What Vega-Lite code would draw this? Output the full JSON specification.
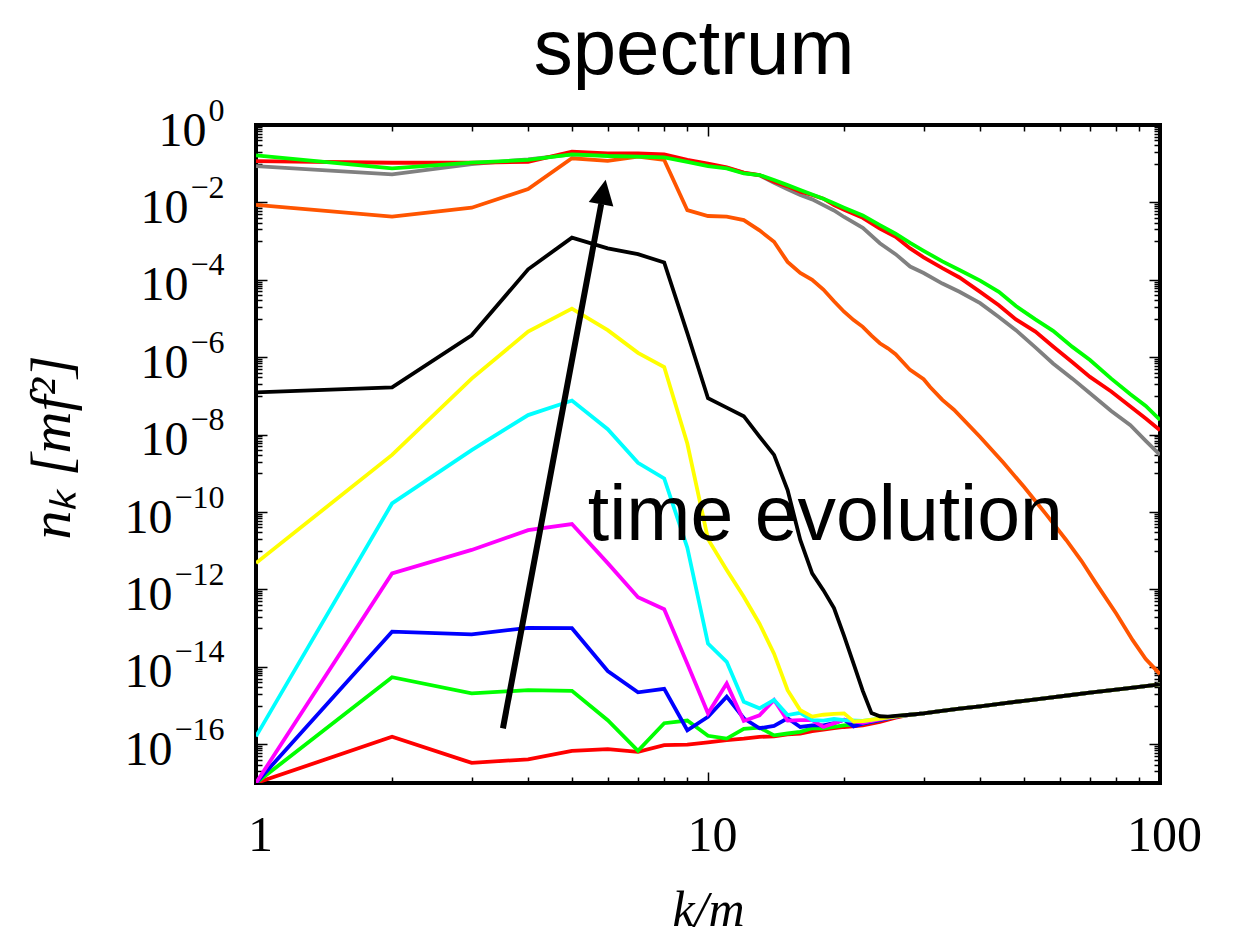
{
  "$schema": "https://vega.github.io/schema/vega-lite/v6.json",
  "width": 904,
  "height": 658,
  "autosize": {"type": "none"},
  "padding": {"left": 256, "top": 125, "right": 78, "bottom": 159},
  "background": "white",
  "title": {
    "text": "spectrum",
    "font": "Liberation Sans",
    "fontSize": 78,
    "fontWeight": "normal",
    "color": "black",
    "anchor": "middle",
    "frame": "group",
    "baseline": "alphabetic",
    "offset": -58,
    "dx": -14
  },
  "config": {
    "view": {"stroke": "black", "strokeWidth": 4},
    "axis": {
      "domain": false,
      "grid": false,
      "tickColor": "black",
      "tickWidth": 1.5,
      "labelColor": "black",
      "labelFont": "Liberation Serif",
      "labelFlush": false,
      "labelOverlap": false,
      "labelBound": false,
      "titleColor": "black",
      "zindex": 1
    }
  },
  "datasets": {
    "spectra": [
      {"s": "s01", "k": 1, "n": 1e-17}, {"s": "s01", "k": 2, "n": 1.56e-16}, {"s": "s01", "k": 3, "n": 3.3e-17}, {"s": "s01", "k": 4, "n": 4.1e-17}, {"s": "s01", "k": 5, "n": 6.8e-17}, {"s": "s01", "k": 6, "n": 7.5e-17}, {"s": "s01", "k": 7, "n": 6.4e-17}, {"s": "s01", "k": 8, "n": 9.5e-17}, {"s": "s01", "k": 9, "n": 9.8e-17}, {"s": "s01", "k": 10, "n": 1.12e-16}, {"s": "s01", "k": 11, "n": 1.28e-16}, {"s": "s01", "k": 12, "n": 1.4e-16}, {"s": "s01", "k": 13, "n": 1.56e-16}, {"s": "s01", "k": 14, "n": 1.6e-16}, {"s": "s01", "k": 15, "n": 1.8e-16}, {"s": "s01", "k": 16, "n": 1.9e-16}, {"s": "s01", "k": 17, "n": 2.2e-16}, {"s": "s01", "k": 18, "n": 2.4e-16}, {"s": "s01", "k": 19, "n": 2.6e-16}, {"s": "s01", "k": 20, "n": 2.8e-16}, {"s": "s01", "k": 22, "n": 3.1e-16}, {"s": "s01", "k": 24, "n": 3.8e-16}, {"s": "s01", "k": 26, "n": 4.9e-16},
      {"s": "s01", "k": 28, "n": 5.8e-16}, {"s": "s01", "k": 30, "n": 6.3e-16}, {"s": "s01", "k": 32, "n": 7.0e-16}, {"s": "s01", "k": 36, "n": 8.3e-16}, {"s": "s01", "k": 40, "n": 9.6e-16}, {"s": "s01", "k": 45, "n": 1.14e-15}, {"s": "s01", "k": 50, "n": 1.33e-15}, {"s": "s01", "k": 56, "n": 1.55e-15}, {"s": "s01", "k": 63, "n": 1.85e-15}, {"s": "s01", "k": 70, "n": 2.15e-15}, {"s": "s01", "k": 80, "n": 2.6e-15}, {"s": "s01", "k": 90, "n": 3.05e-15}, {"s": "s01", "k": 100, "n": 3.55e-15},

      {"s": "s02", "k": 1, "n": 1e-17}, {"s": "s02", "k": 2, "n": 5.4e-15}, {"s": "s02", "k": 3, "n": 2.07e-15}, {"s": "s02", "k": 4, "n": 2.5e-15}, {"s": "s02", "k": 5, "n": 2.4e-15}, {"s": "s02", "k": 6, "n": 4.2e-16}, {"s": "s02", "k": 7, "n": 6.8e-17}, {"s": "s02", "k": 8, "n": 3.5e-16}, {"s": "s02", "k": 9, "n": 4.1e-16}, {"s": "s02", "k": 10, "n": 1.66e-16}, {"s": "s02", "k": 11, "n": 1.4e-16}, {"s": "s02", "k": 12, "n": 2.5e-16}, {"s": "s02", "k": 13, "n": 2.7e-16}, {"s": "s02", "k": 14, "n": 1.7e-16}, {"s": "s02", "k": 15, "n": 1.9e-16}, {"s": "s02", "k": 16, "n": 2.1e-16}, {"s": "s02", "k": 17, "n": 2.6e-16}, {"s": "s02", "k": 18, "n": 2.6e-16}, {"s": "s02", "k": 19, "n": 2.8e-16}, {"s": "s02", "k": 20, "n": 3.1e-16}, {"s": "s02", "k": 22, "n": 3.4e-16}, {"s": "s02", "k": 24, "n": 4.2e-16}, {"s": "s02", "k": 26, "n": 5.2e-16},
      {"s": "s02", "k": 28, "n": 5.8e-16}, {"s": "s02", "k": 30, "n": 6.3e-16}, {"s": "s02", "k": 32, "n": 7.0e-16}, {"s": "s02", "k": 36, "n": 8.3e-16}, {"s": "s02", "k": 40, "n": 9.6e-16}, {"s": "s02", "k": 45, "n": 1.14e-15}, {"s": "s02", "k": 50, "n": 1.33e-15}, {"s": "s02", "k": 56, "n": 1.55e-15}, {"s": "s02", "k": 63, "n": 1.85e-15}, {"s": "s02", "k": 70, "n": 2.15e-15}, {"s": "s02", "k": 80, "n": 2.6e-15}, {"s": "s02", "k": 90, "n": 3.05e-15}, {"s": "s02", "k": 100, "n": 3.55e-15},

      {"s": "s03", "k": 1, "n": 1e-17}, {"s": "s03", "k": 2, "n": 8.1e-14}, {"s": "s03", "k": 3, "n": 6.9e-14}, {"s": "s03", "k": 4, "n": 1.02e-13}, {"s": "s03", "k": 5, "n": 1.0e-13}, {"s": "s03", "k": 6, "n": 7.8e-15}, {"s": "s03", "k": 7, "n": 2.2e-15}, {"s": "s03", "k": 8, "n": 2.7e-15}, {"s": "s03", "k": 9, "n": 2.3e-16}, {"s": "s03", "k": 10, "n": 5.1e-16}, {"s": "s03", "k": 11, "n": 1.7e-15}, {"s": "s03", "k": 12, "n": 4.7e-16}, {"s": "s03", "k": 13, "n": 2.6e-16}, {"s": "s03", "k": 14, "n": 3.0e-16}, {"s": "s03", "k": 15, "n": 4.7e-16}, {"s": "s03", "k": 16, "n": 2.8e-16}, {"s": "s03", "k": 17, "n": 3.1e-16}, {"s": "s03", "k": 18, "n": 3.1e-16}, {"s": "s03", "k": 19, "n": 3.5e-16}, {"s": "s03", "k": 20, "n": 4.3e-16}, {"s": "s03", "k": 21, "n": 2.9e-16}, {"s": "s03", "k": 22, "n": 3.4e-16}, {"s": "s03", "k": 24, "n": 4.2e-16}, {"s": "s03", "k": 26, "n": 5.2e-16},
      {"s": "s03", "k": 28, "n": 5.8e-16}, {"s": "s03", "k": 30, "n": 6.3e-16}, {"s": "s03", "k": 32, "n": 7.0e-16}, {"s": "s03", "k": 36, "n": 8.3e-16}, {"s": "s03", "k": 40, "n": 9.6e-16}, {"s": "s03", "k": 45, "n": 1.14e-15}, {"s": "s03", "k": 50, "n": 1.33e-15}, {"s": "s03", "k": 56, "n": 1.55e-15}, {"s": "s03", "k": 63, "n": 1.85e-15}, {"s": "s03", "k": 70, "n": 2.15e-15}, {"s": "s03", "k": 80, "n": 2.6e-15}, {"s": "s03", "k": 90, "n": 3.05e-15}, {"s": "s03", "k": 100, "n": 3.55e-15},

      {"s": "s04", "k": 1, "n": 1e-17}, {"s": "s04", "k": 2, "n": 2.6e-12}, {"s": "s04", "k": 3, "n": 1.05e-11}, {"s": "s04", "k": 4, "n": 3.4e-11}, {"s": "s04", "k": 5, "n": 4.9e-11}, {"s": "s04", "k": 6, "n": 4.8e-12}, {"s": "s04", "k": 7, "n": 6.3e-13}, {"s": "s04", "k": 8, "n": 3.1e-13}, {"s": "s04", "k": 9, "n": 1.2e-14}, {"s": "s04", "k": 10, "n": 6.3e-16}, {"s": "s04", "k": 11, "n": 3.7e-15}, {"s": "s04", "k": 12, "n": 4.0e-16}, {"s": "s04", "k": 13, "n": 5.6e-16}, {"s": "s04", "k": 14, "n": 1.4e-15}, {"s": "s04", "k": 15, "n": 4.1e-16}, {"s": "s04", "k": 16, "n": 4.2e-16}, {"s": "s04", "k": 17, "n": 4.2e-16}, {"s": "s04", "k": 18, "n": 2.8e-16}, {"s": "s04", "k": 19, "n": 3.5e-16}, {"s": "s04", "k": 20, "n": 4.3e-16}, {"s": "s04", "k": 22, "n": 3.6e-16}, {"s": "s04", "k": 24, "n": 4.4e-16}, {"s": "s04", "k": 26, "n": 5.2e-16},
      {"s": "s04", "k": 28, "n": 5.8e-16}, {"s": "s04", "k": 30, "n": 6.3e-16}, {"s": "s04", "k": 32, "n": 7.0e-16}, {"s": "s04", "k": 36, "n": 8.3e-16}, {"s": "s04", "k": 40, "n": 9.6e-16}, {"s": "s04", "k": 45, "n": 1.14e-15}, {"s": "s04", "k": 50, "n": 1.33e-15}, {"s": "s04", "k": 56, "n": 1.55e-15}, {"s": "s04", "k": 63, "n": 1.85e-15}, {"s": "s04", "k": 70, "n": 2.15e-15}, {"s": "s04", "k": 80, "n": 2.6e-15}, {"s": "s04", "k": 90, "n": 3.05e-15}, {"s": "s04", "k": 100, "n": 3.55e-15},

      {"s": "s05", "k": 1, "n": 1.6e-16}, {"s": "s05", "k": 2, "n": 1.67e-10}, {"s": "s05", "k": 3, "n": 4.0e-9}, {"s": "s05", "k": 4, "n": 3.2e-8}, {"s": "s05", "k": 5, "n": 7.6e-8}, {"s": "s05", "k": 6, "n": 1.38e-8}, {"s": "s05", "k": 7, "n": 1.87e-9}, {"s": "s05", "k": 8, "n": 7.4e-10}, {"s": "s05", "k": 9, "n": 1.2e-11}, {"s": "s05", "k": 10, "n": 4.0e-14}, {"s": "s05", "k": 11, "n": 1.35e-14}, {"s": "s05", "k": 12, "n": 1.26e-15}, {"s": "s05", "k": 13, "n": 8.5e-16}, {"s": "s05", "k": 14, "n": 1.4e-15}, {"s": "s05", "k": 15, "n": 5.7e-16}, {"s": "s05", "k": 16, "n": 6.5e-16}, {"s": "s05", "k": 17, "n": 4.2e-16}, {"s": "s05", "k": 18, "n": 4.1e-16}, {"s": "s05", "k": 19, "n": 4.5e-16}, {"s": "s05", "k": 20, "n": 4.2e-16}, {"s": "s05", "k": 22, "n": 4.0e-16}, {"s": "s05", "k": 24, "n": 4.6e-16}, {"s": "s05", "k": 26, "n": 5.3e-16},
      {"s": "s05", "k": 28, "n": 5.8e-16}, {"s": "s05", "k": 30, "n": 6.3e-16}, {"s": "s05", "k": 32, "n": 7.0e-16}, {"s": "s05", "k": 36, "n": 8.3e-16}, {"s": "s05", "k": 40, "n": 9.6e-16}, {"s": "s05", "k": 45, "n": 1.14e-15}, {"s": "s05", "k": 50, "n": 1.33e-15}, {"s": "s05", "k": 56, "n": 1.55e-15}, {"s": "s05", "k": 63, "n": 1.85e-15}, {"s": "s05", "k": 70, "n": 2.15e-15}, {"s": "s05", "k": 80, "n": 2.6e-15}, {"s": "s05", "k": 90, "n": 3.05e-15}, {"s": "s05", "k": 100, "n": 3.55e-15},

      {"s": "s06", "k": 1, "n": 4.8e-12}, {"s": "s06", "k": 2, "n": 3.0e-9}, {"s": "s06", "k": 3, "n": 2.8e-7}, {"s": "s06", "k": 4, "n": 4.6e-6}, {"s": "s06", "k": 5, "n": 1.8e-5}, {"s": "s06", "k": 6, "n": 5.0e-6}, {"s": "s06", "k": 7, "n": 1.3e-6}, {"s": "s06", "k": 8, "n": 5.6e-7}, {"s": "s06", "k": 9, "n": 5.9e-9}, {"s": "s06", "k": 10, "n": 2.0e-11}, {"s": "s06", "k": 11, "n": 3.2e-12}, {"s": "s06", "k": 12, "n": 6.5e-13}, {"s": "s06", "k": 13, "n": 1.3e-13}, {"s": "s06", "k": 14, "n": 2.2e-14}, {"s": "s06", "k": 15, "n": 2.5e-15}, {"s": "s06", "k": 16, "n": 7.6e-16}, {"s": "s06", "k": 17, "n": 5.2e-16}, {"s": "s06", "k": 18, "n": 5.8e-16}, {"s": "s06", "k": 19, "n": 6.1e-16}, {"s": "s06", "k": 20, "n": 6.3e-16}, {"s": "s06", "k": 21, "n": 3.9e-16}, {"s": "s06", "k": 22, "n": 4.0e-16}, {"s": "s06", "k": 24, "n": 4.6e-16}, {"s": "s06", "k": 26, "n": 5.3e-16},
      {"s": "s06", "k": 28, "n": 5.8e-16}, {"s": "s06", "k": 30, "n": 6.3e-16}, {"s": "s06", "k": 32, "n": 7.0e-16}, {"s": "s06", "k": 36, "n": 8.3e-16}, {"s": "s06", "k": 40, "n": 9.6e-16}, {"s": "s06", "k": 45, "n": 1.14e-15}, {"s": "s06", "k": 50, "n": 1.33e-15}, {"s": "s06", "k": 56, "n": 1.55e-15}, {"s": "s06", "k": 63, "n": 1.85e-15}, {"s": "s06", "k": 70, "n": 2.15e-15}, {"s": "s06", "k": 80, "n": 2.6e-15}, {"s": "s06", "k": 90, "n": 3.05e-15}, {"s": "s06", "k": 100, "n": 3.55e-15},

      {"s": "s07", "k": 1, "n": 1.24e-7}, {"s": "s07", "k": 2, "n": 1.66e-7}, {"s": "s07", "k": 3, "n": 3.7e-6}, {"s": "s07", "k": 4, "n": 1.87e-4}, {"s": "s07", "k": 5, "n": 1.23e-3}, {"s": "s07", "k": 6, "n": 6.5e-4}, {"s": "s07", "k": 7, "n": 4.6e-4}, {"s": "s07", "k": 8, "n": 2.8e-4}, {"s": "s07", "k": 9, "n": 4.2e-6}, {"s": "s07", "k": 10, "n": 8.7e-8}, {"s": "s07", "k": 11, "n": 5.0e-8}, {"s": "s07", "k": 12, "n": 3.0e-8}, {"s": "s07", "k": 13, "n": 8.9e-9}, {"s": "s07", "k": 14, "n": 3.0e-9}, {"s": "s07", "k": 15, "n": 3.7e-10}, {"s": "s07", "k": 16, "n": 1.9e-11}, {"s": "s07", "k": 17, "n": 2.6e-12}, {"s": "s07", "k": 18, "n": 9.6e-13}, {"s": "s07", "k": 19, "n": 3.3e-13}, {"s": "s07", "k": 20, "n": 6.3e-14}, {"s": "s07", "k": 21, "n": 1.2e-14}, {"s": "s07", "k": 22, "n": 2.4e-15}, {"s": "s07", "k": 23, "n": 6.4e-16}, {"s": "s07", "k": 24, "n": 5.3e-16}, {"s": "s07", "k": 25, "n": 5.2e-16}, {"s": "s07", "k": 26, "n": 5.4e-16},
      {"s": "s07", "k": 28, "n": 5.8e-16}, {"s": "s07", "k": 30, "n": 6.3e-16}, {"s": "s07", "k": 32, "n": 7.0e-16}, {"s": "s07", "k": 36, "n": 8.3e-16}, {"s": "s07", "k": 40, "n": 9.6e-16}, {"s": "s07", "k": 45, "n": 1.14e-15}, {"s": "s07", "k": 50, "n": 1.33e-15}, {"s": "s07", "k": 56, "n": 1.55e-15}, {"s": "s07", "k": 63, "n": 1.85e-15}, {"s": "s07", "k": 70, "n": 2.15e-15}, {"s": "s07", "k": 80, "n": 2.6e-15}, {"s": "s07", "k": 90, "n": 3.05e-15}, {"s": "s07", "k": 100, "n": 3.55e-15},

      {"s": "s08", "k": 1, "n": 8.6e-3}, {"s": "s08", "k": 2, "n": 4.3e-3}, {"s": "s08", "k": 3, "n": 7.3e-3}, {"s": "s08", "k": 4, "n": 2.2e-2}, {"s": "s08", "k": 5, "n": 0.138}, {"s": "s08", "k": 6, "n": 0.118}, {"s": "s08", "k": 7, "n": 0.152}, {"s": "s08", "k": 8, "n": 0.125}, {"s": "s08", "k": 9, "n": 6.3e-3}, {"s": "s08", "k": 10, "n": 4.45e-3}, {"s": "s08", "k": 11, "n": 4.3e-3}, {"s": "s08", "k": 12, "n": 3.5e-3}, {"s": "s08", "k": 13, "n": 1.9e-3}, {"s": "s08", "k": 14, "n": 9.6e-4}, {"s": "s08", "k": 15, "n": 2.9e-4}, {"s": "s08", "k": 16, "n": 1.5e-4}, {"s": "s08", "k": 17, "n": 1.0e-4}, {"s": "s08", "k": 18, "n": 5.6e-5}, {"s": "s08", "k": 19, "n": 2.8e-5}, {"s": "s08", "k": 20, "n": 1.5e-5}, {"s": "s08", "k": 21, "n": 9.1e-6}, {"s": "s08", "k": 22, "n": 6.1e-6}, {"s": "s08", "k": 23, "n": 3.6e-6}, {"s": "s08", "k": 24, "n": 2.3e-6}, {"s": "s08", "k": 25, "n": 1.7e-6}, {"s": "s08", "k": 26, "n": 1.2e-6}, {"s": "s08", "k": 28, "n": 4.7e-7}, {"s": "s08", "k": 30, "n": 2.7e-7}, {"s": "s08", "k": 31, "n": 1.7e-7}, {"s": "s08", "k": 33, "n": 7.9e-8}, {"s": "s08", "k": 35, "n": 4.4e-8}, {"s": "s08", "k": 40, "n": 8.7e-9}, {"s": "s08", "k": 45, "n": 1.9e-9}, {"s": "s08", "k": 50, "n": 4.5e-10}, {"s": "s08", "k": 56, "n": 8.7e-11}, {"s": "s08", "k": 62, "n": 1.9e-11}, {"s": "s08", "k": 67, "n": 5.5e-12}, {"s": "s08", "k": 72, "n": 1.5e-12}, {"s": "s08", "k": 80, "n": 2.4e-13}, {"s": "s08", "k": 87, "n": 4.9e-14}, {"s": "s08", "k": 93, "n": 1.6e-14}, {"s": "s08", "k": 100, "n": 6.5e-15},

      {"s": "s09", "k": 1, "n": 0.087}, {"s": "s09", "k": 2, "n": 0.053}, {"s": "s09", "k": 3, "n": 0.098}, {"s": "s09", "k": 4, "n": 0.13}, {"s": "s09", "k": 5, "n": 0.175}, {"s": "s09", "k": 6, "n": 0.165}, {"s": "s09", "k": 7, "n": 0.165}, {"s": "s09", "k": 8, "n": 0.16}, {"s": "s09", "k": 9, "n": 0.12}, {"s": "s09", "k": 10, "n": 0.095}, {"s": "s09", "k": 11, "n": 0.078}, {"s": "s09", "k": 12, "n": 0.058}, {"s": "s09", "k": 13, "n": 0.05}, {"s": "s09", "k": 14, "n": 0.032}, {"s": "s09", "k": 15, "n": 0.022}, {"s": "s09", "k": 16, "n": 0.0155}, {"s": "s09", "k": 17, "n": 0.012}, {"s": "s09", "k": 18, "n": 8.5e-3}, {"s": "s09", "k": 19, "n": 6.2e-3}, {"s": "s09", "k": 20, "n": 4.2e-3}, {"s": "s09", "k": 22, "n": 2.2e-3}, {"s": "s09", "k": 24, "n": 8.8e-4}, {"s": "s09", "k": 26, "n": 4.6e-4}, {"s": "s09", "k": 28, "n": 2.2e-4}, {"s": "s09", "k": 30, "n": 1.5e-4}, {"s": "s09", "k": 33, "n": 8.0e-5}, {"s": "s09", "k": 36, "n": 4.9e-5}, {"s": "s09", "k": 40, "n": 2.5e-5}, {"s": "s09", "k": 44, "n": 1.1e-5}, {"s": "s09", "k": 48, "n": 5.0e-6}, {"s": "s09", "k": 53, "n": 1.8e-6}, {"s": "s09", "k": 58, "n": 6.9e-7}, {"s": "s09", "k": 64, "n": 2.8e-7}, {"s": "s09", "k": 70, "n": 1.17e-7}, {"s": "s09", "k": 78, "n": 4.1e-8}, {"s": "s09", "k": 86, "n": 1.75e-8}, {"s": "s09", "k": 93, "n": 6.9e-9}, {"s": "s09", "k": 100, "n": 3.0e-9},

      {"s": "s10", "k": 1, "n": 0.117}, {"s": "s10", "k": 2, "n": 0.106}, {"s": "s10", "k": 3, "n": 0.106}, {"s": "s10", "k": 4, "n": 0.112}, {"s": "s10", "k": 5, "n": 0.204}, {"s": "s10", "k": 6, "n": 0.185}, {"s": "s10", "k": 7, "n": 0.185}, {"s": "s10", "k": 8, "n": 0.175}, {"s": "s10", "k": 9, "n": 0.125}, {"s": "s10", "k": 10, "n": 0.1}, {"s": "s10", "k": 11, "n": 0.081}, {"s": "s10", "k": 12, "n": 0.059}, {"s": "s10", "k": 13, "n": 0.051}, {"s": "s10", "k": 14, "n": 0.034}, {"s": "s10", "k": 15, "n": 0.026}, {"s": "s10", "k": 16, "n": 0.019}, {"s": "s10", "k": 17, "n": 0.0155}, {"s": "s10", "k": 18, "n": 0.0125}, {"s": "s10", "k": 19, "n": 8.5e-3}, {"s": "s10", "k": 20, "n": 6.5e-3}, {"s": "s10", "k": 22, "n": 4.0e-3}, {"s": "s10", "k": 24, "n": 2.1e-3}, {"s": "s10", "k": 26, "n": 1.3e-3}, {"s": "s10", "k": 28, "n": 6.5e-4}, {"s": "s10", "k": 30, "n": 3.8e-4}, {"s": "s10", "k": 33, "n": 2.0e-4}, {"s": "s10", "k": 36, "n": 1.15e-4}, {"s": "s10", "k": 40, "n": 4.9e-5}, {"s": "s10", "k": 44, "n": 2.2e-5}, {"s": "s10", "k": 48, "n": 9.5e-6}, {"s": "s10", "k": 53, "n": 4.6e-6}, {"s": "s10", "k": 58, "n": 1.9e-6}, {"s": "s10", "k": 64, "n": 7.4e-7}, {"s": "s10", "k": 70, "n": 3.1e-7}, {"s": "s10", "k": 78, "n": 1.3e-7}, {"s": "s10", "k": 86, "n": 5.3e-8}, {"s": "s10", "k": 93, "n": 2.6e-8}, {"s": "s10", "k": 100, "n": 1.3e-8},

      {"s": "s11", "k": 1, "n": 0.165}, {"s": "s11", "k": 2, "n": 0.076}, {"s": "s11", "k": 3, "n": 0.106}, {"s": "s11", "k": 4, "n": 0.125}, {"s": "s11", "k": 5, "n": 0.175}, {"s": "s11", "k": 6, "n": 0.158}, {"s": "s11", "k": 7, "n": 0.152}, {"s": "s11", "k": 8, "n": 0.146}, {"s": "s11", "k": 9, "n": 0.112}, {"s": "s11", "k": 10, "n": 0.087}, {"s": "s11", "k": 11, "n": 0.076}, {"s": "s11", "k": 12, "n": 0.056}, {"s": "s11", "k": 13, "n": 0.051}, {"s": "s11", "k": 14, "n": 0.038}, {"s": "s11", "k": 15, "n": 0.028}, {"s": "s11", "k": 16, "n": 0.021}, {"s": "s11", "k": 17, "n": 0.016}, {"s": "s11", "k": 18, "n": 0.0125}, {"s": "s11", "k": 19, "n": 9.5e-3}, {"s": "s11", "k": 20, "n": 7.3e-3}, {"s": "s11", "k": 22, "n": 4.6e-3}, {"s": "s11", "k": 24, "n": 2.6e-3}, {"s": "s11", "k": 26, "n": 1.55e-3}, {"s": "s11", "k": 28, "n": 9.0e-4}, {"s": "s11", "k": 30, "n": 5.6e-4}, {"s": "s11", "k": 33, "n": 3.0e-4}, {"s": "s11", "k": 36, "n": 1.8e-4}, {"s": "s11", "k": 40, "n": 9.5e-5}, {"s": "s11", "k": 44, "n": 4.9e-5}, {"s": "s11", "k": 48, "n": 2.1e-5}, {"s": "s11", "k": 53, "n": 9.5e-6}, {"s": "s11", "k": 58, "n": 4.8e-6}, {"s": "s11", "k": 64, "n": 1.85e-6}, {"s": "s11", "k": 70, "n": 8.5e-7}, {"s": "s11", "k": 78, "n": 2.8e-7}, {"s": "s11", "k": 86, "n": 1.1e-7}, {"s": "s11", "k": 93, "n": 5.5e-8}, {"s": "s11", "k": 100, "n": 2.4e-8}
    ],
    "arrow": [
      {"k1": 3.518, "n1": 2.58e-16, "k2": 5.805, "n2": 9.1e-3}
    ],
    "arrowhead": [
      {"k": 5.868, "n": 0.0186}
    ],
    "note": [
      {"k": 5.42, "n": 1.89e-11, "label": "time evolution"}
    ]
  },
  "resolve": {
    "scale": {"x": "shared", "y": "shared"},
    "axis": {"x": "independent", "y": "independent"}
  },
  "layer": [
    {
      "data": {"name": "spectra"},
      "mark": {"type": "line", "strokeWidth": 3.8, "clip": true},
      "encoding": {
        "x": {
          "field": "k", "type": "quantitative",
          "scale": {"type": "log", "domain": [1, 100], "nice": false},
          "axis": {
            "orient": "bottom", "values": [1, 10, 100], "ticks": false,
            "labelExpr": "format(datum.value, 'd')",
            "labelFontSize": 50, "labelAlign": "center", "labelBaseline": "middle", "labelPadding": 52, "labelOffset": 4,
            "title": "k/m", "titleFont": "Liberation Serif", "titleFontStyle": "italic", "titleFontWeight": "normal",
            "titleFontSize": 50, "titleBaseline": "middle", "titleY": 127
          }
        },
        "y": {
          "field": "n", "type": "quantitative",
          "scale": {"type": "log", "domain": [1e-17, 1], "nice": false},
          "axis": {
            "orient": "left", "values": [1], "ticks": false,
            "labelExpr": "'10'", "labelFontSize": 48, "labelAlign": "right", "labelBaseline": "middle",
            "labelPadding": 50, "labelOffset": 6,
            "title": "nₖ  [mf²]", "titleFont": "Liberation Serif", "titleFontStyle": "italic", "titleFontWeight": "normal",
            "titleFontSize": 58, "titleAngle": -90, "titleBaseline": "middle", "titleAlign": "center",
            "titleX": -204, "titleY": 322
          }
        },
        "color": {
          "field": "s", "type": "nominal", "legend": null,
          "scale": {
            "domain": ["s01", "s02", "s03", "s04", "s05", "s06", "s07", "s08", "s09", "s10", "s11"],
            "range": ["#ff0000", "#00ff00", "#0000ff", "#ff00ff", "#00ffff", "#ffff00", "#000000", "#ff5500", "#808080", "#ff0000", "#00ff00"]
          }
        }
      }
    },
    {
      "data": {"name": "arrow"},
      "mark": {"type": "rule", "color": "black", "strokeWidth": 6, "strokeCap": "butt"},
      "encoding": {
        "x": {
          "field": "k1", "type": "quantitative",
          "scale": {"type": "log", "domain": [1, 100], "nice": false},
          "axis": {"orient": "bottom", "values": [10], "labels": false, "tickSize": -11, "title": null}
        },
        "y": {
          "field": "n1", "type": "quantitative",
          "scale": {"type": "log", "domain": [1e-17, 1], "nice": false},
          "axis": {
            "orient": "left", "values": [1e-2, 1e-4, 1e-6, 1e-8], "ticks": false,
            "labelExpr": "'10'", "labelFontSize": 48, "labelAlign": "right", "labelBaseline": "middle",
            "labelPadding": 68, "labelOffset": 6, "title": null
          }
        },
        "x2": {"field": "k2"},
        "y2": {"field": "n2"}
      }
    },
    {
      "data": {"name": "arrowhead"},
      "mark": {"type": "point", "shape": "M0,-1L-1,1L1,1Z", "filled": true, "size": 625, "angle": 10.6, "color": "black", "opacity": 1},
      "encoding": {
        "x": {
          "field": "k", "type": "quantitative",
          "scale": {"type": "log", "domain": [1, 100], "nice": false},
          "axis": {"orient": "bottom", "values": [2, 3, 4, 5, 6, 7, 8, 9, 20, 30, 40, 50, 60, 70, 80, 90], "labels": false, "tickSize": -6, "title": null}
        },
        "y": {
          "field": "n", "type": "quantitative",
          "scale": {"type": "log", "domain": [1e-17, 1], "nice": false},
          "axis": {
            "orient": "left", "values": [1e-10, 1e-12, 1e-14, 1e-16], "ticks": false,
            "labelExpr": "'10'", "labelFontSize": 48, "labelAlign": "right", "labelBaseline": "middle",
            "labelPadding": 84, "labelOffset": 6, "title": null
          }
        }
      }
    },
    {
      "data": {"name": "note"},
      "mark": {"type": "text", "align": "left", "baseline": "alphabetic", "font": "Liberation Sans", "fontSize": 77, "color": "black"},
      "encoding": {
        "x": {
          "field": "k", "type": "quantitative",
          "scale": {"type": "log", "domain": [1, 100], "nice": false},
          "axis": {"orient": "top", "values": [10], "labels": false, "tickSize": -11, "title": null}
        },
        "y": {
          "field": "n", "type": "quantitative",
          "scale": {"type": "log", "domain": [1e-17, 1], "nice": false},
          "axis": {
            "orient": "left", "values": [1, 1e-2, 1e-4, 1e-6, 1e-8, 1e-10, 1e-12, 1e-14, 1e-16], "ticks": false,
            "labelExpr": "(datum.value > 0.5 ? '' : '−') + round(-log(datum.value) / LN10)", "labelFontSize": 32,
            "labelAlign": "right", "labelBaseline": "middle", "labelPadding": 32, "labelOffset": -15,
            "title": null
          }
        },
        "text": {"field": "label", "type": "nominal"}
      }
    },
    {
      "data": {"name": "note"},
      "mark": {"type": "point", "opacity": 0},
      "encoding": {
        "x": {
          "field": "k", "type": "quantitative",
          "scale": {"type": "log", "domain": [1, 100], "nice": false},
          "axis": {"orient": "top", "values": [2, 3, 4, 5, 6, 7, 8, 9, 20, 30, 40, 50, 60, 70, 80, 90], "labels": false, "tickSize": -6, "title": null}
        },
        "y": {
          "field": "n", "type": "quantitative",
          "scale": {"type": "log", "domain": [1e-17, 1], "nice": false},
          "axis": {"orient": "left", "values": [1, 1e-2, 1e-4, 1e-6, 1e-8, 1e-10, 1e-12, 1e-14, 1e-16], "labels": false, "tickSize": -11, "title": null}
        }
      }
    },
    {
      "data": {"name": "note"},
      "mark": {"type": "point", "opacity": 0},
      "encoding": {
        "x": {"field": "k", "type": "quantitative", "scale": {"type": "log", "domain": [1, 100], "nice": false}, "axis": null},
        "y": {
          "field": "n", "type": "quantitative",
          "scale": {"type": "log", "domain": [1e-17, 1], "nice": false},
          "axis": {
            "orient": "left", "labels": false, "tickSize": -6, "title": null,
            "values": [0.1, 0.2, 0.3, 0.4, 0.5, 0.6, 0.7, 0.8, 0.9,
              1e-3, 2e-3, 3e-3, 4e-3, 5e-3, 6e-3, 7e-3, 8e-3, 9e-3,
              1e-5, 2e-5, 3e-5, 4e-5, 5e-5, 6e-5, 7e-5, 8e-5, 9e-5,
              1e-7, 2e-7, 3e-7, 4e-7, 5e-7, 6e-7, 7e-7, 8e-7, 9e-7,
              1e-9, 2e-9, 3e-9, 4e-9, 5e-9, 6e-9, 7e-9, 8e-9, 9e-9,
              1e-11, 2e-11, 3e-11, 4e-11, 5e-11, 6e-11, 7e-11, 8e-11, 9e-11,
              1e-13, 2e-13, 3e-13, 4e-13, 5e-13, 6e-13, 7e-13, 8e-13, 9e-13,
              1e-15, 2e-15, 3e-15, 4e-15, 5e-15, 6e-15, 7e-15, 8e-15, 9e-15,
              2e-17, 3e-17, 4e-17, 5e-17, 6e-17, 7e-17, 8e-17, 9e-17]
          }
        }
      }
    },
    {
      "data": {"name": "note"},
      "mark": {"type": "point", "opacity": 0},
      "encoding": {
        "x": {"field": "k", "type": "quantitative", "scale": {"type": "log", "domain": [1, 100], "nice": false}, "axis": null},
        "y": {
          "field": "n", "type": "quantitative",
          "scale": {"type": "log", "domain": [1e-17, 1], "nice": false},
          "axis": {"orient": "right", "values": [1, 1e-2, 1e-4, 1e-6, 1e-8, 1e-10, 1e-12, 1e-14, 1e-16], "labels": false, "tickSize": -11, "title": null}
        }
      }
    },
    {
      "data": {"name": "note"},
      "mark": {"type": "point", "opacity": 0},
      "encoding": {
        "x": {"field": "k", "type": "quantitative", "scale": {"type": "log", "domain": [1, 100], "nice": false}, "axis": null},
        "y": {
          "field": "n", "type": "quantitative",
          "scale": {"type": "log", "domain": [1e-17, 1], "nice": false},
          "axis": {
            "orient": "right", "labels": false, "tickSize": -6, "title": null,
            "values": [0.1, 0.2, 0.3, 0.4, 0.5, 0.6, 0.7, 0.8, 0.9,
              1e-3, 2e-3, 3e-3, 4e-3, 5e-3, 6e-3, 7e-3, 8e-3, 9e-3,
              1e-5, 2e-5, 3e-5, 4e-5, 5e-5, 6e-5, 7e-5, 8e-5, 9e-5,
              1e-7, 2e-7, 3e-7, 4e-7, 5e-7, 6e-7, 7e-7, 8e-7, 9e-7,
              1e-9, 2e-9, 3e-9, 4e-9, 5e-9, 6e-9, 7e-9, 8e-9, 9e-9,
              1e-11, 2e-11, 3e-11, 4e-11, 5e-11, 6e-11, 7e-11, 8e-11, 9e-11,
              1e-13, 2e-13, 3e-13, 4e-13, 5e-13, 6e-13, 7e-13, 8e-13, 9e-13,
              1e-15, 2e-15, 3e-15, 4e-15, 5e-15, 6e-15, 7e-15, 8e-15, 9e-15,
              2e-17, 3e-17, 4e-17, 5e-17, 6e-17, 7e-17, 8e-17, 9e-17]
          }
        }
      }
    }
  ]
}
